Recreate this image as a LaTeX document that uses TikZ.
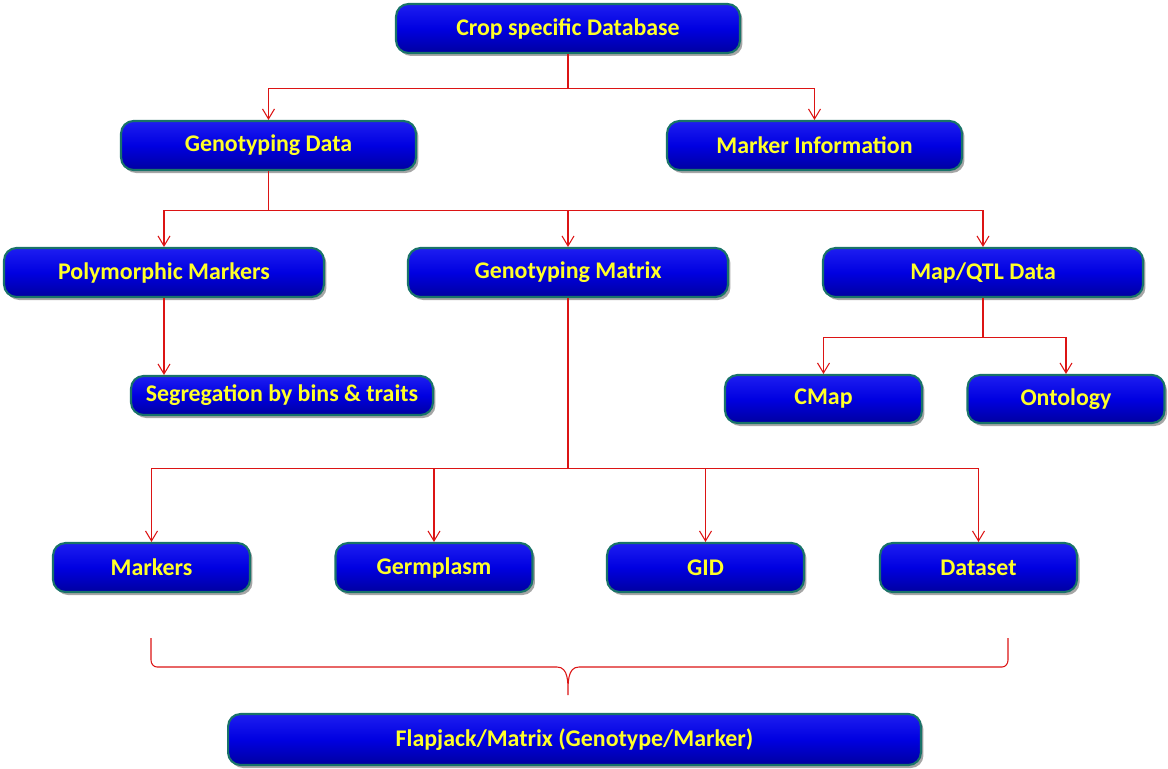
\documentclass[tikz,border=0pt]{standalone}
\usepackage{fontspec}
\setmainfont{Carlito}
\usetikzlibrary{arrows.meta, shadows}
\definecolor{boxtop}{RGB}{30,30,240}
\definecolor{boxmid}{RGB}{0,0,225}
\definecolor{boxbot}{RGB}{0,0,160}
\definecolor{boxedge}{RGB}{25,115,105}
\definecolor{boxtext}{RGB}{255,255,40}
\definecolor{linkred}{RGB}{220,20,20}

\begin{document}
\begin{tikzpicture}[
  x=0.02cm, y=-0.02cm, font=\fontsize{13.6}{16}\selectfont\bfseries,
  box/.style   ={rectangle, rounded corners=2.5mm, draw=boxedge, line width=1.2pt,
                 top color=boxtop, bottom color=boxbot, middle color=boxmid,
                 text=boxtext, minimum height=0.98cm, inner sep=1pt,
                 drop shadow={shadow xshift=0.5mm, shadow yshift=-0.6mm, opacity=0.35, fill=black}},
  link/.style  ={draw=linkred, line width=0.6pt},
  arrow/.style ={link, -{Straight Barb[length=2mm, width=2.4mm]}},
]
  \useasboundingbox (0,0) rectangle (1168,768);

  % top levels
  \node[box, minimum width=6.88cm] (crop)  at (568,28.5)   {Crop specific Database};
  \node[box, minimum width=5.9cm]  (gdata) at (268.5,145.5) {Genotyping Data};
  \node[box, minimum width=5.9cm]  (minfo) at (814.5,145.5) {Marker Information};

  \node[box, minimum width=6.4cm]  (poly)  at (164,272.5)  {Polymorphic Markers};
  \node[box, minimum width=6.4cm]  (gmat)  at (568,272.5)  {Genotyping Matrix};
  \node[box, minimum width=6.4cm]  (mqtl)  at (983,272.5)  {Map/QTL Data};

  \node[box, minimum width=6.04cm, minimum height=0.78cm] (seg) at (282,395.5) {Segregation by bins \& traits};
  \node[box, minimum width=3.94cm, minimum height=0.96cm] (cmap) at (823.5,399) {CMap};
  \node[box, minimum width=3.94cm, minimum height=0.96cm] (onto) at (1066,399)  {Ontology};

  % matrix parts
  \node[box, minimum width=3.94cm] (mark)  at (151.5,567.5) {Markers};
  \node[box, minimum width=3.94cm] (germ)  at (434,567.5)   {Germplasm};
  \node[box, minimum width=3.94cm] (gid)   at (705.5,567.5) {GID};
  \node[box, minimum width=3.94cm] (dset)  at (978.5,567.5) {Dataset};

  \node[box, minimum width=13.86cm, minimum height=1.02cm] (flap) at (574.5,739.5) {Flapjack/Matrix (Genotype/Marker)};

  % connectors
  \draw[link] (crop.south) -- ++(0,34) coordinate (c1);
  \draw[arrow] (c1) -| (gdata);
  \draw[arrow] (c1) -| (minfo);

  \draw[link] (gdata.south) -- ++(0,39) coordinate (c2);
  \draw[arrow] (c2) -| (poly);
  \draw[arrow] (c2) -| (gmat);
  \draw[arrow] (c2) -| (mqtl);

  \draw[arrow] (poly.south) -- (poly.south |- seg.north);

  \draw[link] (mqtl.south) -- ++(0,39) coordinate (c3);
  \draw[arrow] (c3) -| (cmap);
  \draw[arrow] (c3) -| (onto);

  \draw[link] (gmat.south) -- ++(0,170) coordinate (c4);
  \foreach \n in {mark,germ,gid,dset}
    \draw[arrow] (c4) -| (\n);

  % brace over the four parts
  \coordinate (braceL) at (151,638);
  \coordinate (braceR) at (1008,638);
  \coordinate (braceTip) at (568,695);
  \draw[link] (braceL) -- ++(0,22) to[out=-90,in=180] ++(6,7) -- (557,667)
    to[out=0,in=90] (braceTip) to[out=90,in=180] (579,667) -- (1002,667)
    to[out=0,in=-90] ++(6,-7) -- (braceR);
\end{tikzpicture}
\end{document}
